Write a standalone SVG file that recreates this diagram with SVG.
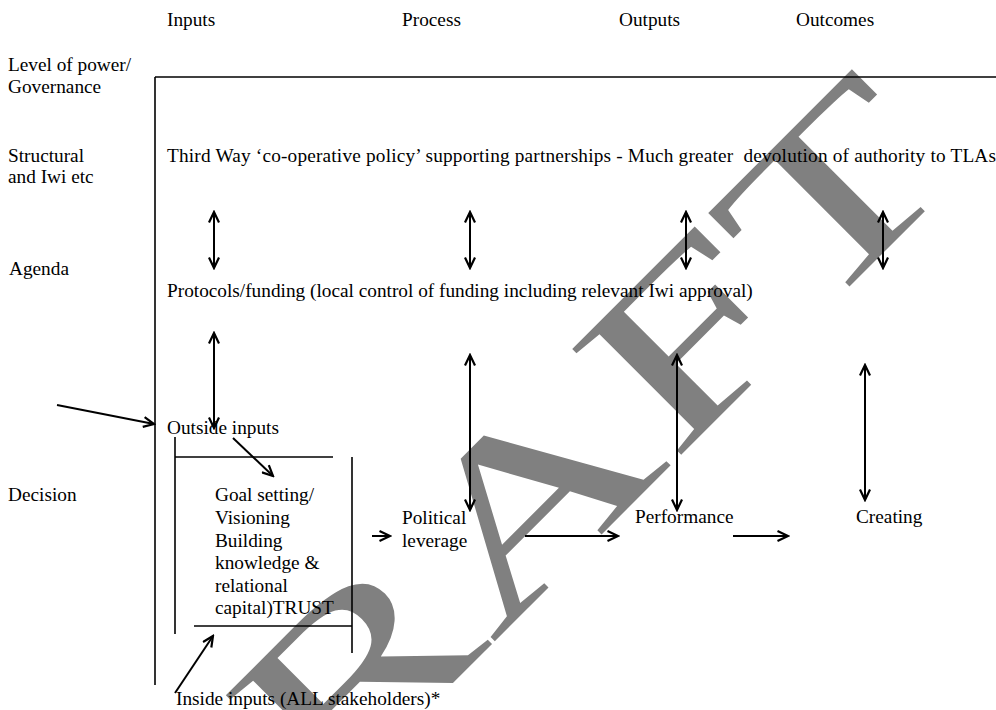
<svg xmlns="http://www.w3.org/2000/svg" width="996" height="710" viewBox="0 0 996 710">
<defs>
<style>
text{font-family:"Liberation Serif","Times New Roman",serif;font-size:19.3px;fill:#000}
.ln{stroke:#000;stroke-width:1.6;fill:none}
.ar{stroke:#000;stroke-width:2;fill:none;marker-end:url(#ah)}
.dar{stroke:#000;stroke-width:2;fill:none;marker-end:url(#ah);marker-start:url(#ahs)}
.wm{font-family:"Liberation Serif","Times New Roman",serif;font-size:232px;fill:#808080}
</style>
<marker id="ah" viewBox="-12 -6 14 12" refX="0" refY="0" markerWidth="14" markerHeight="12" markerUnits="userSpaceOnUse" orient="auto">
<path d="M-10.5,-5 L0,0 L-10.5,5" fill="none" stroke="#000" stroke-width="2.2"/>
</marker>
<marker id="ahs" viewBox="-12 -6 14 12" refX="0" refY="0" markerWidth="14" markerHeight="12" markerUnits="userSpaceOnUse" orient="auto-start-reverse">
<path d="M-10.5,-5 L0,0 L-10.5,5" fill="none" stroke="#000" stroke-width="2.2"/>
</marker>
</defs>
<rect width="996" height="710" fill="#fff"/>
<g id="watermark">
<text class="wm" transform="translate(146,990) rotate(-45) scale(1.52,1)">DRAFT</text>
</g>
<g id="headers">
<text x="167" y="26">Inputs</text>
<text x="402" y="26">Process</text>
<text x="619" y="26">Outputs</text>
<text x="796" y="26">Outcomes</text>
</g>
<g id="levels">
<text x="8" y="71">Level of power/</text>
<text x="8" y="93">Governance</text>
<text x="8" y="162">Structural</text>
<text x="8" y="183">and Iwi etc</text>
<text x="9" y="275">Agenda</text>
<text x="8" y="501">Decision</text>
</g>
<g id="frame">
<line class="ln" x1="155" y1="77" x2="996" y2="77"/>
<line class="ln" x1="155" y1="77" x2="155" y2="685"/>
</g>
<g id="structural">
<text x="167" y="162" xml:space="preserve" textLength="829" lengthAdjust="spacing">Third Way ‘co-operative policy’ supporting partnerships - Much greater  devolution of authority to TLAs</text>
</g>
<g id="agenda">
<text x="167" y="297">Protocols/funding (local control of funding including relevant Iwi approval)</text>
</g>
<g id="outside-inputs">
<text x="167" y="434">Outside inputs</text>
</g>
<g id="goal-box">
<line class="ln" x1="175" y1="437" x2="175" y2="634"/>
<line class="ln" x1="175" y1="457" x2="333" y2="457"/>
<line class="ln" x1="352" y1="457" x2="352" y2="653"/>
<line class="ln" x1="194" y1="626" x2="352" y2="626"/>
<text x="215" y="501">Goal setting/</text>
<text x="215" y="524">Visioning</text>
<text x="215" y="547">Building</text>
<text x="215" y="569">knowledge &amp;</text>
<text x="215" y="592">relational</text>
<text x="215" y="614">capital)TRUST</text>
</g>
<g id="political">
<text x="402" y="524">Political</text>
<text x="402" y="547">leverage</text>
</g>
<g id="performance">
<text x="635" y="523">Performance</text>
</g>
<g id="creating">
<text x="856" y="523">Creating</text>
</g>
<g id="inside-inputs">
<text x="176" y="705">Inside inputs (ALL stakeholders)*</text>
</g>
<g id="connectors">
<line class="dar" x1="214" y1="212" x2="214" y2="268"/>
<line class="dar" x1="470" y1="212" x2="470" y2="268"/>
<line class="dar" x1="686" y1="212" x2="686" y2="268"/>
<line class="dar" x1="883" y1="212" x2="883" y2="268"/>
<line class="dar" x1="214" y1="333" x2="214" y2="428"/>
<line class="dar" x1="470" y1="355" x2="470" y2="510"/>
<line class="dar" x1="677" y1="355" x2="677" y2="510"/>
<line class="dar" x1="865" y1="365" x2="865" y2="500"/>
<line class="ar" x1="57" y1="405" x2="154" y2="424"/>
<line class="ar" x1="233" y1="438" x2="273" y2="476"/>
<line class="ar" x1="175" y1="693" x2="213" y2="636"/>
<line class="ar" x1="372" y1="536" x2="390" y2="536"/>
<line class="ar" x1="525" y1="536" x2="618" y2="536"/>
<line class="ar" x1="733" y1="536" x2="788" y2="536"/>
</g>
</svg>
